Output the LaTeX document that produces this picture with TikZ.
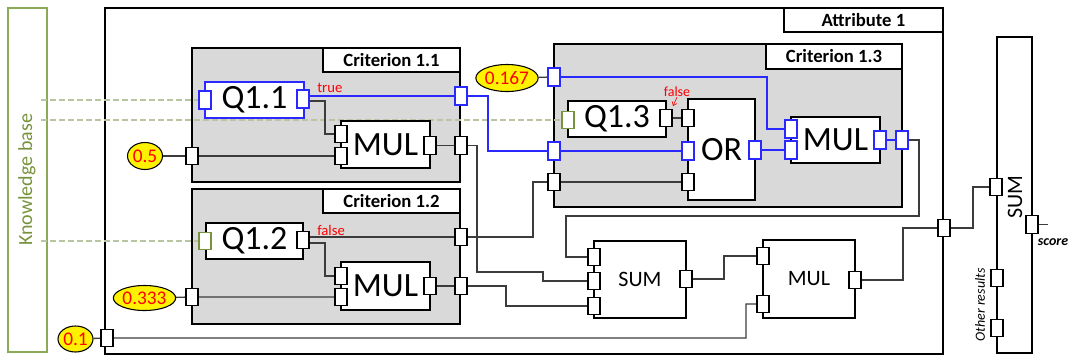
\documentclass[tikz,border=0pt]{standalone}
\usepackage{fontspec}
\setmainfont{Carlito}
\usetikzlibrary{arrows.meta,shapes.geometric}
\definecolor{blueC}{RGB}{40,40,255}
\definecolor{greenC}{RGB}{119,147,60}
\definecolor{kbbox}{RGB}{140,170,85}
\definecolor{kbdash}{RGB}{185,196,160}
\definecolor{critgray}{RGB}{217,217,217}
\definecolor{lineC}{RGB}{60,60,60}
\pgfdeclarelayer{bg}\pgfdeclarelayer{lines}
\pgfsetlayers{bg,lines,main}
\begin{document}
\begin{tikzpicture}[x=0.75pt,y=-0.75pt,
 rct/.style n args={4}{at={(#1,#2)}, anchor=north west, minimum width={(#3-#1)*0.75pt}, minimum height={(#4-#2)*0.75pt}, inner sep=0pt, outer sep=0pt},
 crit/.style={draw=black, fill=critgray, line width=1.5pt},
 lbl/.style={draw=black, fill=white, line width=1.2pt, font=\fontsize{14}{16}\selectfont\bfseries},
 qbox/.style={draw=black, fill=white, line width=1.5pt, font=\fontsize{25.5}{28}\selectfont},
 mbox/.style={draw=black, fill=white, line width=1.5pt, font=\fontsize{16.5}{18}\selectfont},
 port/.style={draw=black, fill=white, line width=0.9pt, minimum width=9pt, minimum height=13pt, inner sep=0pt, outer sep=0pt},
 bport/.style={port, draw=blueC, line width=1.4pt},
 gport/.style={port, draw=greenC, line width=1.2pt},
 valnode/.style 2 args={ellipse, draw=black, fill=yellow, text=red, line width=0.8pt, inner sep=0pt, minimum width={#1*0.75pt}, minimum height={#2*0.75pt}, font=\fontsize{14.5}{16}\selectfont},
 conn/.style={draw=lineC, line width=1pt},
 bconn/.style={draw=blueC, line width=1.5pt},
 kbline/.style={draw=kbdash, dash pattern=on 4.5pt off 2.25pt, line width=0.8pt},
 redtxt/.style={text=red, inner sep=0pt, font=\fontsize{11}{12}\selectfont},
]
\useasboundingbox (0,0) rectangle (1070,358);

\begin{pgfonlayer}{bg}
\node[rct={8}{8}{47}{352}, draw=kbbox, line width=1pt] (kb) {};
\node[rotate=90, text=greenC, font=\fontsize{15}{18}\selectfont] (kbt) at (27,180) {Knowledge base};
\node[rct={105}{8}{943}{354}, draw=black, fill=white, line width=1.5pt] (attr) {};
\node[rct={784}{8}{943}{32}, lbl] (attrl) {Attribute 1};
\node[rct={192}{48}{460}{182}, crit] (c11) {};
\node[rct={323}{48}{460}{72}, lbl] (c11l) {Criterion 1.1};
\node[rct={192}{189}{460}{324}, crit] (c12) {};
\node[rct={323}{189}{460}{213}, lbl] (c12l) {Criterion 1.2};
\node[rct={554}{44}{902}{207}, crit] (c13) {};
\node[rct={766}{44}{902}{69}, lbl] (c13l) {Criterion 1.3};
\end{pgfonlayer}

% inner boxes
\node[rct={205}{82}{304}{118}, qbox, draw=blueC, line width=2pt] (q11) {Q1.1};
\node[rct={206}{223}{303}{259}, qbox] (q12) {Q1.2};
\node[rct={568}{101}{666}{137}, qbox] (q13) {Q1.3};
\node[rct={341}{121}{430}{168}, qbox] (m11) {MUL};
\node[rct={341}{262}{430}{310}, qbox] (m12) {MUL};
\node[rct={791}{117}{880}{163}, qbox] (m13) {MUL};
\node[rct={688}{99}{755}{200}, qbox] (or13) {OR};
\node[rct={594}{241}{686}{318}, mbox] (sum1) {SUM};
\node[rct={763}{240}{855}{318}, mbox] (mul1) {MUL};
\node[rct={997}{37}{1032}{353}, mbox] (bsum) {};
\node[rotate=90, font=\fontsize{16.5}{18}\selectfont] (bsumt) at (1015,197) {SUM};

% ports
\node[bport] (q11i) at (205,100) {};
\node[bport] (q11o) at (303,99) {};
\node[gport] (q12i) at (205,241) {};
\node[port] (q12o) at (303,240) {};
\node[gport] (q13i) at (568,120) {};
\node[port] (q13o) at (666,118) {};
\node[port] (c11w) at (192,156) {};
\node[bport] (c11e1) at (461,96) {};
\node[port] (c11e2) at (461,145.5) {};
\node[port] (m11a) at (341,134) {};
\node[port] (m11b) at (341,156) {};
\node[port] (m11o) at (430,145.5) {};
\node[port] (c12w) at (192,297) {};
\node[port] (c12e1) at (461,237) {};
\node[port] (c12e2) at (461,286) {};
\node[port] (m12a) at (341,276) {};
\node[port] (m12b) at (341,297) {};
\node[port] (m12o) at (430,286) {};
\node[bport] (c13w1) at (554,77) {};
\node[bport] (c13w2) at (554,151) {};
\node[port] (c13w3) at (554,182) {};
\node[bport] (c13e) at (902,140) {};
\node[port] (or1) at (688,118) {};
\node[bport] (or2) at (688,151) {};
\node[port] (or3) at (688,182) {};
\node[bport] (oro) at (755,150) {};
\node[bport] (m13a) at (791,129) {};
\node[bport] (m13b) at (791,150) {};
\node[bport] (m13o) at (880,140) {};
\node[port] (s1a) at (594,257) {};
\node[port] (s1b) at (594,281) {};
\node[port] (s1c) at (594,306) {};
\node[port] (s1o) at (686,279) {};
\node[port] (mu1a) at (763,256) {};
\node[port] (mu1b) at (763,304) {};
\node[port] (mu1o) at (855,280) {};
\node[port] (attrw) at (107,338) {};
\node[port] (attre) at (944,228) {};
\node[port] (bs1) at (996,187) {};
\node[port] (bs2) at (997,278) {};
\node[port] (bs3) at (997,328) {};
\node[port] (bso) at (1032,224.5) {};
\coordinate (scoreend) at (1048,224.5);
\coordinate (kbr) at (41,0);

% value ellipses
\node[valnode={35}{27}] (v05) at (145,156) {0.5};
\node[valnode={55}{25}] (v0333) at (144.5,298) {0.333};
\node[valnode={56}{27}] (v0167) at (507,78) {0.167};
\node[valnode={35}{26}] (v01) at (75.5,339) {0.1};

% texts
\node[redtxt, anchor=west] (ttrue) at (317,88) {true};
\node[redtxt, anchor=west] (tf12) at (317,230) {false};
\node[redtxt, font=\fontsize{10.5}{12}\selectfont] (tf13) at (677,92) {false};
\coordinate (tf13tip) at (673,106);
\node[rotate=90, inner sep=0pt, font=\fontsize{10.5}{12}\selectfont\itshape] (other) at (980,305) {Other results};
\node[inner sep=0pt, font=\fontsize{10.5}{12}\selectfont\bfseries\itshape] (score) at (1053,242) {score};

\begin{pgfonlayer}{lines}
\draw[kbline] (kbr |- q11i) -- (q11i);
\draw[kbline] (kbr |- q13i) -- (q13i);
\draw[kbline] (kbr |- q12i) -- (q12i);

\draw[conn] (v05) -- (c11w) -- (m11b);
\draw[conn] (q11o.east) ++(0,2) -| (325,134) -- (m11a);
\draw[bconn] (q11o.east |- c11e1) -- (c11e1);
\draw[bconn] (c11e1) -| (488,151) -- (c13w2) -- (or2);
\draw[conn] (m11o) -- (c11e2) -| (477,272) -| (543,281) -- (s1b);

\draw[conn] (q12o.east) ++(0,3) -| (325,276) -- (m12a);
\draw[conn] (q12o.east |- c12e1) -- (c12e1) -| (533,182) -- (c13w3) -- (or3);
\draw[conn] (m12o) -- (c12e2) -| (506,306) -- (s1c);
\draw[conn] (v0333) -- (c12w) -- (m12b);

\draw[conn] (v0167) -- (c13w1);
\draw[bconn] (c13w1) -| (767,129) -- (m13a);
\draw[conn] (q13o) -- (or1);
\draw[bconn] (oro) -- (m13b);
\draw[bconn] (m13o) -- (c13e);
\draw[conn] (c13e) -| (919,216) -| (566,257) -- (s1a);

\draw[conn] (s1o) -| (724,256) -- (mu1a);
\draw[conn] (v01) -- (attrw) -| (746,304) -- (mu1b);
\draw[conn] (mu1o) -| (903,228) -- (attre) -| (973,187) -- (bs1);
\draw[conn] (bso) -- (scoreend);
\end{pgfonlayer}
\draw[red, line width=0.5pt, -{Straight Barb[length=2.5pt,width=4pt]}] (tf13.south) -- (tf13tip);
\end{tikzpicture}
\end{document}
